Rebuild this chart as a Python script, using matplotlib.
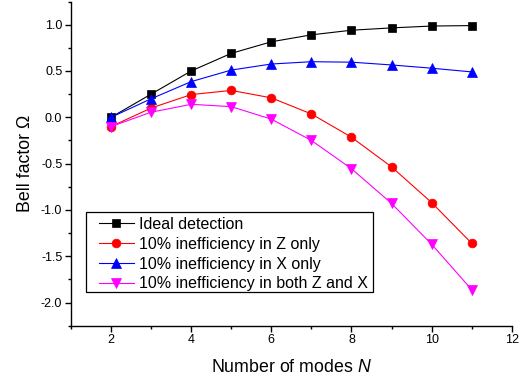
import matplotlib
matplotlib.use("Agg")
import matplotlib.pyplot as plt
from matplotlib.ticker import MultipleLocator
from matplotlib.patches import Rectangle

plt.rcParams['font.family'] = ['Liberation Sans', 'DejaVu Sans']
plt.rcParams['mathtext.fontset'] = 'custom'
plt.rcParams['mathtext.it'] = 'Liberation Sans:italic'
plt.rcParams['mathtext.rm'] = 'Liberation Sans'

N = [2, 3, 4, 5, 6, 7, 8, 9, 10, 11]
ideal = [0.0, 0.25, 0.50, 0.69, 0.815, 0.89, 0.94, 0.965, 0.985, 0.99]
z_only = [-0.10, 0.10, 0.245, 0.29, 0.21, 0.036, -0.215, -0.535, -0.92, -1.36]
x_only = [0.0, 0.20, 0.385, 0.51, 0.575, 0.60, 0.595, 0.565, 0.53, 0.49]
both = [-0.10, 0.055, 0.14, 0.115, -0.02, -0.25, -0.555, -0.93, -1.37, -1.86]

labels = ["Ideal detection", "10% inefficiency in Z only",
          "10% inefficiency in X only", "10% inefficiency in both Z and X"]
colors = ["black", "#ff0000", "#0000ff", "#ff00ff"]
markers = ["s", "o", "^", "v"]
msizes = [5.5, 6.3, 6.5, 6.5]
series = [ideal, z_only, x_only, both]

W, H = 521, 381
fig = plt.figure(figsize=(W / 100, H / 100), dpi=100)
ax = fig.add_axes([71 / W, 1 - 325.7 / H, (511.7 - 71) / W, (325.7 - 1.5) / H])

for ys, c, m, ms, lab in zip(series, colors, markers, msizes, labels):
    ax.plot(N, ys, color=c, marker=m, markersize=ms, linewidth=0.8,
            markeredgewidth=0.5, markeredgecolor=c, label=lab)

ax.set_xlim(1, 12)
ax.set_ylim(-2.25, 1.25)
ax.xaxis.set_major_locator(MultipleLocator(2))
ax.xaxis.set_minor_locator(MultipleLocator(1))
ax.yaxis.set_major_locator(MultipleLocator(0.5))
ax.yaxis.set_minor_locator(MultipleLocator(0.25))
ax.spines['top'].set_visible(False)
ax.spines['right'].set_visible(False)
for s in ['left', 'bottom']:
    ax.spines[s].set_linewidth(1.0)
ax.tick_params(which='major', direction='out', length=4.3, width=1.0, labelsize=9, pad=2)
ax.tick_params(which='minor', direction='out', length=2.5, width=1.0)
ax.yaxis.set_major_formatter(plt.FuncFormatter(lambda v, p: f"{v:.1f}"))

ax.set_xlabel("Number of modes $N$", fontsize=12.8, labelpad=9)
ax.set_ylabel("Bell factor \u03a9", fontsize=12.8, labelpad=5)

# legend frame box
fig.add_artist(Rectangle((86 / W, 1 - 292 / H), (373 - 86) / W, (292 - 212) / H,
                         transform=fig.transFigure, fill=True, facecolor='white',
                         edgecolor='black', linewidth=0.9, zorder=4))
leg = fig.legend(*ax.get_legend_handles_labels(), loc='upper left',
                 bbox_to_anchor=(98.5 / W, 1 - 217 / H), fontsize=11.5,
                 frameon=False, handlelength=2.25, handletextpad=0.3,
                 labelspacing=0.3, borderpad=0, borderaxespad=0)
leg.set_zorder(5)

fig.savefig("out.png", dpi=100)
